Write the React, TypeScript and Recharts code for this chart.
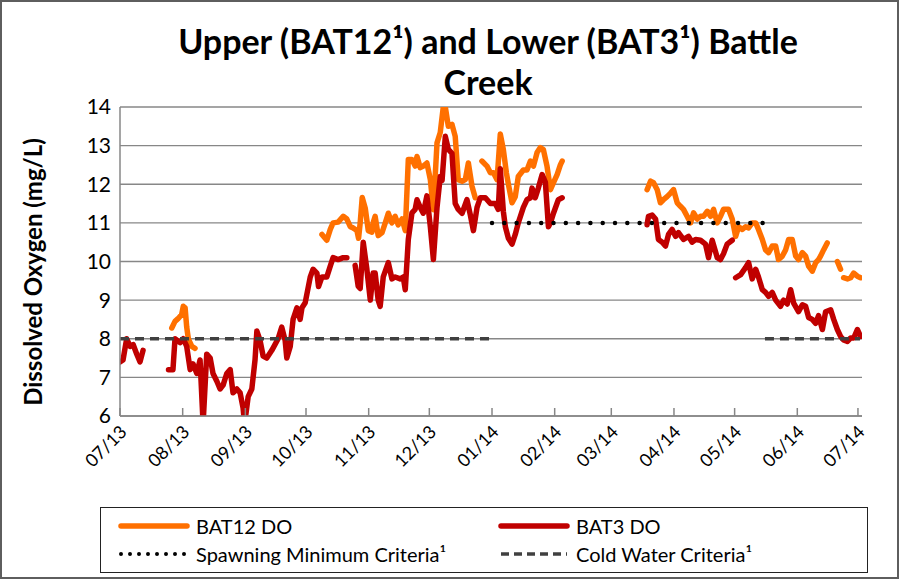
import React from 'react';
import { LineChart, Line, XAxis, YAxis, CartesianGrid } from 'recharts';

// x values are days since 2013-07-01, null marks a gap in the logger record
const BAT12_DO: Array<[number, number | null]> = [
    [25.6, 8.28], [27.2, 8.45], [28.7, 8.52], [30.5, 8.63], [31.3, 8.84], [32.2, 8.8], [33, 8.3],
    [33.8, 8.0], [35.5, 7.8], [37.1, 7.75], [60, null],
    [99.9, 10.7], [102.3, 10.55], [104, 10.83], [105.4, 11.0], [107.9, 11.02], [110.4, 11.17],
    [112.2, 11.1], [113.9, 10.9], [115.3, 10.87], [117.2, 10.8], [118, 10.6], [118.8, 11.0],
    [119.8, 11.66], [121.3, 11.38], [122.8, 10.8], [124.6, 10.76], [125.2, 11.0], [126.2, 11.17],
    [127.7, 10.67], [129.6, 10.75], [131.2, 11.0], [132.7, 11.25], [134.5, 11.0], [136.1, 11.17],
    [137.6, 10.95], [139.5, 11.1], [141.1, 10.8], [142.6, 12.64], [144.4, 12.64], [146, 12.47],
    [146.9, 12.72], [148.5, 12.43], [150, 12.47], [151.8, 12.55], [153.5, 12.12], [155, 11.34],
    [156.8, 13.07], [158.4, 13.34], [159.9, 14.0], [160.9, 14.0], [162.4, 13.5], [164.2, 13.55],
    [165.8, 13.24], [167.3, 12.12], [169.2, 12.08], [170.8, 12.12], [172.3, 12.55], [174.1, 11.95],
    [175.7, 11.65], [177.3, null],
    [179, 12.6], [181.5, 12.47], [183.2, 12.3], [184.7, 12.3], [186.5, 12.12], [188.1, 13.3],
    [189.6, 12.9], [191.1, 12.3], [192.1, 12.0], [193.9, 11.52], [195.5, 11.68], [197, 12.2],
    [199.5, 12.37], [201.3, 12.37], [203, 12.6], [204.5, 12.47], [206.3, 12.82], [207.9, 12.95],
    [209.4, 12.9], [211.2, 12.47], [212.9, 11.86], [214.4, 12.04], [216.2, 12.25], [217.8, 12.5],
    [218.7, 12.6], [240, null],
    [260.7, 11.86], [262.4, 12.08], [263.9, 12.04], [265.7, 11.86], [267.3, 11.52], [268.8, 11.6],
    [270.6, 11.68], [272.3, 11.77], [273.8, 11.86], [275.6, 11.52], [277.2, 11.43], [278.7, 11.35],
    [280.5, 11.17], [282.2, 11.0], [283.7, 11.26], [285.5, 11.1], [287.1, 11.17], [288.6, 11.17],
    [290.5, 11.3], [292.1, 11.17], [293.6, 11.35], [295.4, 11.0], [297, 11.17], [298.5, 11.35],
    [301, 11.35], [302.8, 11.1], [304.5, 10.65], [306, 10.9], [307.8, 10.83], [309.4, 10.9],
    [310.9, 10.87], [312.7, 11.0], [314.4, 11.0], [315.8, 10.83], [317.7, 10.57], [319.3, 10.3],
    [320.8, 10.23], [322.6, 10.4], [324.3, 10.4], [325.7, 10.05], [327.6, 10.14], [329.2, 10.3],
    [330.7, 10.57], [332.5, 10.57], [334.2, 10.14], [335.6, 10.05], [337.5, 10.23], [339.1, 10.14],
    [340.6, 9.88], [342.4, 9.75], [344.1, 9.97], [345.5, 10.05], [346.5, 10.14], [348, 10.3],
    [349.8, 10.48], [352, null],
    [354.8, 10.0], [356.4, 9.8], [357.2, null],
    [357.9, 9.58], [359.8, 9.55], [361.4, 9.58], [362.9, 9.7], [364.7, 9.62], [366.3, 9.58],
];

const BAT3_DO: Array<[number, number | null]> = [
    [0, 7.4], [1.5, 7.45], [3.3, 8.0], [5, 7.8], [6.5, 7.85], [8.3, 7.6], [9.9, 7.4], [11.4, 7.7],
    [18, null],
    [24, 7.2], [26.2, 7.2], [27.2, 8.0], [29.7, 7.9], [31.3, 8.0], [33, 7.8], [34.7, 7.2],
    [36.1, 7.35], [38, 7.1], [39.6, 7.45], [41.1, 5.8], [42.9, 7.6], [44.6, 7.5], [46, 7.1],
    [47.9, 6.9], [49.5, 6.7], [51, 6.8], [52.8, 7.1], [54.5, 7.2], [55.9, 6.6], [57.8, 6.7],
    [59.4, 6.6], [60.9, 6.2], [61.6, 5.8], [62.4, 6.1], [63.4, 6.5], [65.2, 6.7], [66.8, 7.46],
    [67.7, 8.2], [69.3, 7.95], [70.8, 7.55], [72.6, 7.5], [75.1, 7.7], [78.2, 8.0], [80, 8.3],
    [81.7, 7.95], [82.5, 7.5], [84.2, 7.8], [85.6, 8.5], [87.5, 8.8], [89.1, 8.5], [90, 8.8],
    [91.6, 8.93], [94.1, 9.6], [95.5, 9.8], [97.4, 9.7], [98.2, 9.35], [99.9, 9.6], [102.3, 9.6],
    [104, 9.88], [105.4, 10.1], [107.9, 10.05], [110.4, 10.1], [112.2, 10.1], [114, null],
    [116.3, 9.9], [117.8, 9.36], [118.8, 9.3], [120.3, 10.5], [122.1, 9.8], [123.8, 9.0],
    [125.2, 9.7], [126.2, 9.7], [127.7, 9.0], [128.7, 8.84], [130.2, 9.6], [132.7, 9.97],
    [134.5, 9.55], [136.1, 9.6], [138.6, 9.55], [140.1, 9.6], [141.1, 9.27], [142.6, 10.57],
    [144.4, 11.26], [146, 11.35], [146.9, 11.6], [148.5, 11.4], [150, 11.25], [151.8, 11.7],
    [153.5, 10.9], [155, 10.05], [156.8, 11.4], [158.4, 12.2], [159.3, 12.1], [160.9, 13.24],
    [162.4, 12.9], [164.2, 12.8], [165.8, 11.5], [167.3, 11.35], [169.2, 11.25], [171.6, 11.6],
    [173.3, 11.2], [174.8, 10.8], [176.6, 11.4], [178.2, 11.65], [180.7, 11.65], [183.2, 11.5],
    [185.6, 11.5], [187.1, 11.35], [188.1, 12.4], [189.6, 11.3], [190.6, 10.9], [192.1, 10.6],
    [193.9, 10.45], [195.5, 10.7], [197, 11.0], [199.5, 11.4], [201.3, 11.6], [203, 11.65],
    [203.8, 11.9], [205.4, 11.65], [206.9, 11.9], [208.8, 12.25], [210.4, 12.05], [211.9, 10.9],
    [212.9, 11.0], [214.4, 11.25], [216.8, 11.6], [218.7, 11.65], [240, null],
    [260.7, 10.95], [261.4, 11.17], [263.2, 11.2], [264.9, 11.1], [266.3, 10.57], [268.2, 10.5],
    [269.8, 10.4], [271.3, 10.7], [273.1, 10.83], [274.8, 10.65], [276.2, 10.75], [278.7, 10.57],
    [281.2, 10.65], [283, 10.5], [284.7, 10.57], [287.1, 10.55], [289.6, 10.45], [291.1, 10.1],
    [292.9, 10.55], [295.4, 10.1], [297, 10.05], [298.5, 10.2], [300.3, 10.45], [302.8, 10.55],
    [303.6, null],
    [304.5, 9.58], [307, 9.66], [309.4, 9.84], [310.9, 9.97], [312.7, 9.55], [314.4, 9.8],
    [315.8, 9.6], [317.7, 9.27], [319.3, 9.2], [320.8, 9.1], [322.6, 9.2], [324.3, 9.0],
    [326.7, 8.84], [328.2, 9.0], [330, 8.9], [331.7, 9.27], [333.2, 8.92], [335.6, 8.7],
    [337.5, 8.88], [339.1, 8.84], [340.6, 8.55], [342.4, 8.5], [344.1, 8.4], [345.5, 8.6],
    [347.4, 8.24], [349, 8.7], [351.5, 8.75], [353, 8.5], [354.8, 8.24], [356.4, 8.06],
    [357.9, 7.97], [359.8, 7.93], [361.4, 8.02], [362.9, 8.02], [364.7, 8.24], [366.3, 8.06],
];

const SPAWNING_MIN: Array<[number, number | null]> = [[184, 11], [318, 11]];
const COLD_WATER: Array<[number, number | null]> = [[0, 8], [183, 8], [250, null], [319, 8], [366, 8]];

const MONTH_TICKS = [0, 31, 62, 92, 123, 153, 184, 215, 243, 274, 304, 335, 365];
const MONTH_LABELS = ['07/13', '08/13', '09/13', '10/13', '11/13', '12/13', '01/14', '02/14', '03/14', '04/14', '05/14', '06/14', '07/14'];
const DO_TICKS = [6, 7, 8, 9, 10, 11, 12, 13, 14];

const ORANGE = '#FF7000';
const RED = '#C00000';
const AXIS_GRAY = '#878787';
const FONT = 'Lato, "Liberation Sans", sans-serif';

const toRows = (pts: Array<[number, number | null]>) => pts.map(([day, v]) => ({ day, v }));

const MonthTick = (props: any) => {
    const { x, y, payload } = props;
    const label = MONTH_LABELS[MONTH_TICKS.indexOf(payload.value)];
    const tx = x + 8;
    const ty = y + 17;
    return (
        <g>
            <line x1={x} x2={x} y1={y - 8} y2={y} stroke={AXIS_GRAY} strokeWidth={1.5} />
            <text x={tx} y={ty} transform={`rotate(-45 ${tx} ${ty})`} textAnchor="end" fontSize={18} fill="#000" fontFamily={FONT}>
                {label}
            </text>
        </g>
    );
};

const LegendSample = ({ color, width, dash, cap }: { color: string; width: number; dash?: string; cap?: 'round' | 'butt' }) => (
    <svg width={72} height={10} style={{ display: 'block' }}>
        <line x1={3} x2={69} y1={5} y2={5} stroke={color} strokeWidth={width} strokeDasharray={dash} strokeLinecap={cap || 'round'} />
    </svg>
);

const legendItems = [
    { label: 'BAT12 DO', color: ORANGE, width: 5.5 },
    { label: 'BAT3 DO', color: RED, width: 5.5 },
    { label: 'Spawning Minimum Criteria¹', color: '#000', width: 4, dash: '0 9' },
    { label: 'Cold Water Criteria¹', color: '#404040', width: 3.5, dash: '8 5', cap: 'butt' as const },
];

export default function App() {
    return (
        <div style={{ position: 'fixed', left: 0, top: 0, width: 899, height: 579, background: '#fff', fontFamily: FONT }}>
            <div style={{ position: 'absolute', inset: 0, border: '2px solid #5e5e5e', boxSizing: 'border-box' }} />

            <div style={{ position: 'absolute', left: 88, width: 800, top: 20, textAlign: 'center', fontSize: 34, fontWeight: 700, lineHeight: '41px', color: '#000' }}>
                Upper (BAT12¹) and Lower (BAT3¹) Battle<br />Creek
            </div>

            <div style={{
                position: 'absolute', left: 33 - 160, top: 272 - 14, width: 320, height: 28, lineHeight: '28px',
                textAlign: 'center', fontSize: 24, fontWeight: 700, transform: 'rotate(-90deg)',
            }}>
                Dissolved Oxygen (mg/L)
            </div>

            <div style={{ position: 'absolute', left: 0, top: 0 }}>
                <LineChart width={899} height={579} margin={{ top: 107, right: 37, bottom: 103, left: 70 }}>
                    <CartesianGrid vertical={false} stroke={AXIS_GRAY} strokeWidth={1.4} />
                    <XAxis
                        dataKey="day"
                        type="number"
                        domain={[0, 367]}
                        ticks={MONTH_TICKS}
                        interval={0}
                        height={60}
                        tickSize={0}
                        tickMargin={0}
                        tickLine={false}
                        axisLine={{ stroke: AXIS_GRAY, strokeWidth: 1.5 }}
                        tick={<MonthTick />}
                        allowDataOverflow
                    />
                    <XAxis xAxisId="top" orientation="top" type="number" domain={[0, 1]} height={0} tick={false} tickLine={false}
                        axisLine={{ stroke: '#A7BEDD', strokeWidth: 1.5 }} />
                    <YAxis
                        type="number"
                        domain={[6, 14]}
                        ticks={DO_TICKS}
                        width={50}
                        tickSize={0}
                        tickMargin={9}
                        tickLine={false}
                        axisLine={{ stroke: AXIS_GRAY, strokeWidth: 1.5 }}
                        tick={{ fontSize: 21, fill: '#000', fontFamily: FONT }}
                        allowDataOverflow
                    />
                    <YAxis yAxisId="right" orientation="right" type="number" domain={[0, 1]} width={0} tick={false} tickLine={false}
                        axisLine={{ stroke: '#A7BEDD', strokeWidth: 1.5 }} />

                    <Line data={toRows(BAT12_DO)} dataKey="v" stroke={ORANGE} strokeWidth={5.5} dot={false} activeDot={false}
                        strokeLinejoin="round" strokeLinecap="round" isAnimationActive={false} connectNulls={false} />
                    <Line data={toRows(BAT3_DO)} dataKey="v" stroke={RED} strokeWidth={5.5} dot={false} activeDot={false}
                        strokeLinejoin="round" strokeLinecap="round" isAnimationActive={false} connectNulls={false} />
                    <Line data={toRows(SPAWNING_MIN)} dataKey="v" stroke="#000" strokeWidth={4.5} strokeDasharray="0 12.3"
                        strokeLinecap="round" dot={false} activeDot={false} isAnimationActive={false} />
                    <Line data={toRows(COLD_WATER)} dataKey="v" stroke="#404040" strokeWidth={3.5} strokeDasharray="9 6"
                        dot={false} activeDot={false} isAnimationActive={false} connectNulls={false} />
                </LineChart>
            </div>

            <div style={{
                position: 'absolute', left: 100, top: 507, width: 768, height: 66, boxSizing: 'border-box',
                border: '1.5px solid #222', display: 'grid', gridTemplateColumns: '380px 380px', alignContent: 'center', rowGap: 5,
            }}>
                {legendItems.map(item => (
                    <div key={item.label} style={{ display: 'flex', alignItems: 'center', paddingLeft: 17, fontSize: 20, lineHeight: '23px' }}>
                        <LegendSample color={item.color} width={item.width} dash={item.dash} cap={item.cap} />
                        <span style={{ marginLeft: 6 }}>{item.label}</span>
                    </div>
                ))}
            </div>
        </div>
    );
}
